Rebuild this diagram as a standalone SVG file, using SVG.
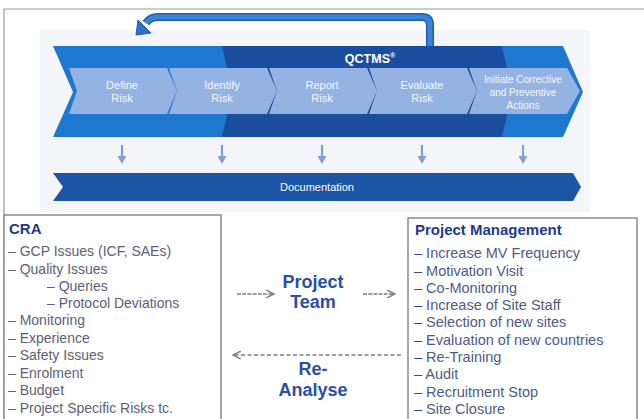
<svg xmlns="http://www.w3.org/2000/svg" width="644" height="419" viewBox="0 0 644 419">
  <style>
    .band-mid { fill: #1f78cf; }
    .band-dark { fill: #1b4d9e; }
    .step { fill: #95b3e2; }
    .step-label { font-family: "Liberation Sans", Arial, sans-serif; font-size: 11px; fill: #f4f7fc; text-anchor: middle; }
    .step-label-sm { font-family: "Liberation Sans", Arial, sans-serif; font-size: 10px; fill: #f4f7fc; text-anchor: middle; }
    .doc-bar { fill: #1d55a6; }
    .down { stroke: #7fa2d6; stroke-width: 2.2; fill: none; }
    .down-head { fill: #7fa2d6; }
    .box { fill: #ffffff; stroke: #7a7a80; stroke-width: 1.3; }
    .head { font-family: "Liberation Sans", Arial, sans-serif; font-size: 15px; font-weight: bold; fill: #1f3a8c; }
    .item { font-family: "Liberation Sans", Arial, sans-serif; font-size: 14px; fill: #5e6078; }
    .item-pm { font-family: "Liberation Sans", Arial, sans-serif; font-size: 14.5px; fill: #4e5b86; }
    .dash { fill: #2d4a9a; }
    .mid-label { font-family: "Liberation Sans", Arial, sans-serif; font-size: 18px; font-weight: bold; fill: #2a4fa6; text-anchor: middle; }
    .flow { stroke: #7d7d80; stroke-width: 1.6; fill: none; }
  </style>
  <defs>
    <marker id="open-head" viewBox="0 0 10 10" refX="9" refY="5" markerWidth="6" markerHeight="6" orient="auto-start-reverse">
      <path d="M1,1 L9,5 L1,9" fill="none" stroke="#7d7d80" stroke-width="1.6"/>
    </marker>
  </defs>

  <!-- page frame -->
  <rect width="644" height="419" fill="#ffffff"/>
  <path d="M4,419 V9 H644" fill="none" stroke="#9a9a9a" stroke-width="1.2"/>
  <rect x="40" y="30" width="550" height="182" fill="#f4f5f9"/>

  <!-- loop-back arrow over the process band -->
  <g id="loop-arrow">
    <path d="M430,46 V25 Q430,17 422,17 H158 Q150,17 146,23" fill="none" stroke="#1d5cb0" stroke-width="8"/>
    <path d="M430,46 V25 Q430,17 422,17 H158 Q150,17 146,23" fill="none" stroke="#3a83d6" stroke-width="5"/>
    <polygon points="136,35 151,33 138,20" fill="#2c72c9" stroke="#1d5cb0" stroke-width="1"/>
  </g>

  <!-- QCTMS process band -->
  <g id="qctms-band">
    <polygon class="band-mid" points="53,46 563,46 583,92 563,137 53,137 73,92"/>
    <polygon class="band-dark" points="222,46 502,46 512,92 502,137 222,137 232,92"/>
    <text x="370" y="63" font-family="Liberation Sans, Arial, sans-serif" font-size="12.5" font-weight="bold" fill="#ffffff" text-anchor="middle">QCTMS<tspan font-size="7" dy="-5">®</tspan></text>
  </g>

  <g id="step-define">
    <polygon class="step" points="69,68 167,68 177,91 167,114 69,114 77,91"/>
    <text class="step-label" x="122" y="89">Define</text>
    <text class="step-label" x="122" y="102">Risk</text>
  </g>
  <g id="step-identify">
    <polygon class="step" points="169,68 267,68 277,91 267,114 169,114 177,91"/>
    <text class="step-label" x="222" y="89">Identify</text>
    <text class="step-label" x="222" y="102">Risk</text>
  </g>
  <g id="step-report">
    <polygon class="step" points="269,68 367,68 377,91 367,114 269,114 277,91"/>
    <text class="step-label" x="322" y="89">Report</text>
    <text class="step-label" x="322" y="102">Risk</text>
  </g>
  <g id="step-evaluate">
    <polygon class="step" points="369,68 467,68 477,91 467,114 369,114 377,91"/>
    <text class="step-label" x="422" y="89">Evaluate</text>
    <text class="step-label" x="422" y="102">Risk</text>
  </g>
  <g id="step-capa">
    <polygon class="step" points="469,68 567,68 580,91 567,114 469,114 477,91"/>
    <text class="step-label-sm" x="523" y="83">Initiate Corrective</text>
    <text class="step-label-sm" x="523" y="96">and Preventive</text>
    <text class="step-label-sm" x="523" y="109">Actions</text>
  </g>

  <g id="documentation">
    <polygon class="doc-bar" points="53,173 573,173 581,187 573,201 53,201 63,187"/>
    <text x="317" y="191" font-family="Liberation Sans, Arial, sans-serif" font-size="11" fill="#ffffff" text-anchor="middle">Documentation</text>
  </g>

  <!-- steps to documentation -->
  <g id="connectors">
    <g id="doc-arrows">
      <path class="down" d="M122,145 V158 M222,145 V158 M322,145 V158 M422,145 V158 M523,145 V158"/>
      <polygon class="down-head" points="117.5,156 126.5,156 122,164"/>
      <polygon class="down-head" points="217.5,156 226.5,156 222,164"/>
      <polygon class="down-head" points="317.5,156 326.5,156 322,164"/>
      <polygon class="down-head" points="417.5,156 426.5,156 422,164"/>
      <polygon class="down-head" points="518.5,156 527.5,156 523,164"/>
    </g>
    <path class="flow" d="M237,294 H274" stroke-dasharray="4 1.2" marker-end="url(#open-head)"/>
    <path class="flow" d="M363,294 H395" stroke-dasharray="4 1.2" marker-end="url(#open-head)"/>
    <path class="flow" d="M401,355 H233" stroke-dasharray="4 2.5" marker-end="url(#open-head)"/>
  </g>

  <!-- CRA risk list -->
  <g id="cra">
    <rect class="box" x="4" y="215" width="217" height="212"/>
    <text class="head" x="9" y="234">CRA</text>
    <g class="item">
      <text x="8" y="256">– GCP Issues (ICF, SAEs)</text>
      <text x="8" y="274">– Quality Issues</text>
      <text x="47" y="291">– Queries</text>
      <text x="47" y="308">– Protocol Deviations</text>
      <text x="8" y="325">– Monitoring</text>
      <text x="8" y="343">– Experience</text>
      <text x="8" y="360">– Safety Issues</text>
      <text x="8" y="378">– Enrolment</text>
      <text x="8" y="395">– Budget</text>
      <text x="8" y="413">– Project Specific Risks tc.</text>
    </g>
  </g>

  <g id="project-team">
    <text class="mid-label" x="313" y="288">Project</text>
    <text class="mid-label" x="313" y="308">Team</text>
  </g>

  <g id="re-analyse">
    <text class="mid-label" x="313" y="375">Re-</text>
    <text class="mid-label" x="313" y="396">Analyse</text>
  </g>

  <!-- project management actions -->
  <g id="project-management">
    <rect class="box" x="408" y="218" width="229" height="209"/>
    <text class="head" x="415" y="235">Project Management</text>
    <g class="item-pm">
      <text x="414" y="258"><tspan class="dash">–</tspan> Increase MV Frequency</text>
      <text x="414" y="275.5"><tspan class="dash">–</tspan> Motivation Visit</text>
      <text x="414" y="292.5"><tspan class="dash">–</tspan> Co-Monitoring</text>
      <text x="414" y="310"><tspan class="dash">–</tspan> Increase of Site Staff</text>
      <text x="414" y="327"><tspan class="dash">–</tspan> Selection of new sites</text>
      <text x="414" y="344.5"><tspan class="dash">–</tspan> Evaluation of new countries</text>
      <text x="414" y="361.5"><tspan class="dash">–</tspan> Re-Training</text>
      <text x="414" y="379"><tspan class="dash">–</tspan> Audit</text>
      <text x="414" y="396.5"><tspan class="dash">–</tspan> Recruitment Stop</text>
      <text x="414" y="414"><tspan class="dash">–</tspan> Site Closure</text>
    </g>
  </g>
</svg>
